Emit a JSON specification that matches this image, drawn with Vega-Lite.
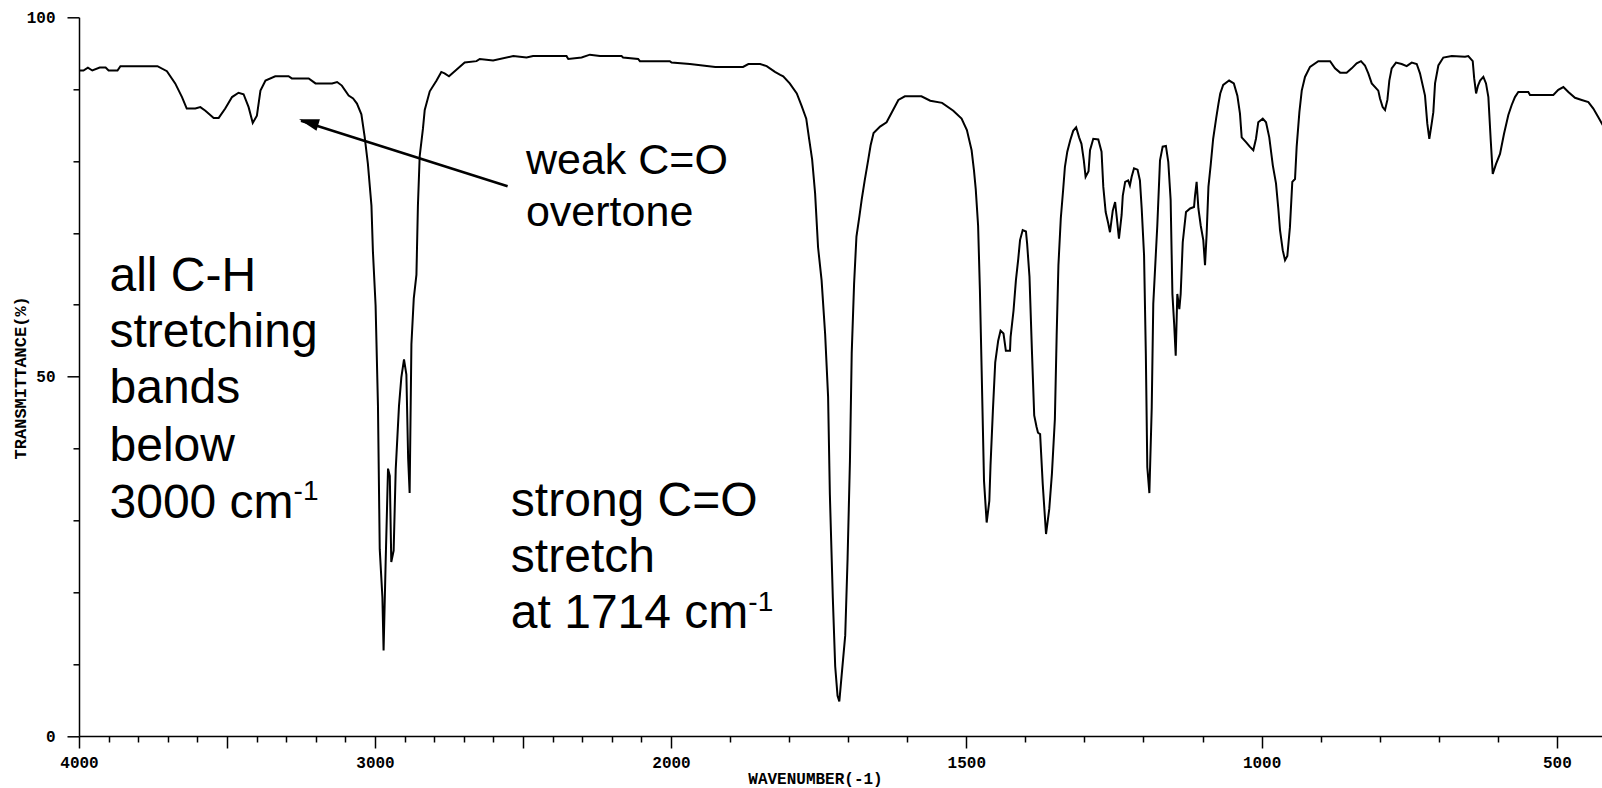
{
  "$schema": "https://vega.github.io/schema/vega-lite/v6.json",
  "autosize": "none",
  "width": 1523,
  "height": 718.7,
  "padding": {"left": 79, "top": 17.3, "right": 0, "bottom": 52},
  "background": "white",
  "config": {"view": {"stroke": null}, "axis": {"grid": false}},
  "datasets": {
    "spectrum": [
      {"w": 4000, "t": 92.6}, {"w": 3985, "t": 92.6}, {"w": 3970, "t": 93.0}, {"w": 3955, "t": 92.6}, {"w": 3930, "t": 93.0}, {"w": 3910, "t": 93.0}, {"w": 3900, "t": 92.6}, {"w": 3870, "t": 92.6}, {"w": 3860, "t": 93.2}, {"w": 3735, "t": 93.2},
      {"w": 3703, "t": 92.5}, {"w": 3675, "t": 90.8}, {"w": 3652, "t": 88.9}, {"w": 3636, "t": 87.3}, {"w": 3607, "t": 87.3}, {"w": 3590, "t": 87.5}, {"w": 3573, "t": 87.0}, {"w": 3545, "t": 86.0}, {"w": 3528, "t": 86.0}, {"w": 3506, "t": 87.3},
      {"w": 3483, "t": 88.9}, {"w": 3461, "t": 89.5}, {"w": 3444, "t": 89.3}, {"w": 3427, "t": 87.5}, {"w": 3413, "t": 85.3}, {"w": 3399, "t": 86.3}, {"w": 3387, "t": 89.8}, {"w": 3370, "t": 91.2}, {"w": 3337, "t": 91.8}, {"w": 3292, "t": 91.8},
      {"w": 3281, "t": 91.5}, {"w": 3224, "t": 91.5}, {"w": 3201, "t": 90.8}, {"w": 3145, "t": 90.8}, {"w": 3128, "t": 91.0}, {"w": 3112, "t": 90.5}, {"w": 3089, "t": 89.1}, {"w": 3074, "t": 88.7}, {"w": 3061, "t": 88.0}, {"w": 3046, "t": 86.5},
      {"w": 3035, "t": 83.4}, {"w": 3024, "t": 79.6}, {"w": 3012, "t": 73.8}, {"w": 3007, "t": 67.4}, {"w": 2998, "t": 59.9}, {"w": 2990, "t": 46.0}, {"w": 2984, "t": 26.0}, {"w": 2975, "t": 19.3}, {"w": 2971, "t": 11.9}, {"w": 2964, "t": 24.2},
      {"w": 2956, "t": 37.2}, {"w": 2950, "t": 36.2}, {"w": 2945, "t": 24.2}, {"w": 2937, "t": 25.8}, {"w": 2930, "t": 37.1}, {"w": 2919, "t": 45.9}, {"w": 2911, "t": 49.9}, {"w": 2902, "t": 52.4}, {"w": 2894, "t": 50.3}, {"w": 2888, "t": 38.6},
      {"w": 2883, "t": 33.8}, {"w": 2877, "t": 54.5}, {"w": 2869, "t": 60.9}, {"w": 2860, "t": 64.2}, {"w": 2855, "t": 73.8}, {"w": 2849, "t": 80.7}, {"w": 2838, "t": 84.5}, {"w": 2832, "t": 87.1}, {"w": 2815, "t": 89.7}, {"w": 2792, "t": 91.2},
      {"w": 2776, "t": 92.4}, {"w": 2765, "t": 92.2}, {"w": 2750, "t": 91.8}, {"w": 2725, "t": 92.7}, {"w": 2697, "t": 93.7}, {"w": 2657, "t": 93.9}, {"w": 2646, "t": 94.2}, {"w": 2601, "t": 94.0}, {"w": 2533, "t": 94.6}, {"w": 2488, "t": 94.4},
      {"w": 2466, "t": 94.6}, {"w": 2353, "t": 94.6}, {"w": 2347, "t": 94.2}, {"w": 2302, "t": 94.4}, {"w": 2274, "t": 94.8}, {"w": 2240, "t": 94.6}, {"w": 2167, "t": 94.6}, {"w": 2162, "t": 94.4}, {"w": 2111, "t": 94.2}, {"w": 2105, "t": 93.9},
      {"w": 2004, "t": 93.9}, {"w": 1999, "t": 93.7}, {"w": 1968, "t": 93.5}, {"w": 1925, "t": 93.1}, {"w": 1878, "t": 93.1}, {"w": 1869, "t": 93.5}, {"w": 1849, "t": 93.5}, {"w": 1838, "t": 93.2}, {"w": 1824, "t": 92.4}, {"w": 1815, "t": 92.0},
      {"w": 1810, "t": 91.8}, {"w": 1799, "t": 90.8}, {"w": 1787, "t": 89.4}, {"w": 1779, "t": 87.7}, {"w": 1771, "t": 85.9}, {"w": 1766, "t": 83.0}, {"w": 1761, "t": 80.2}, {"w": 1756, "t": 75.5}, {"w": 1751, "t": 68.0}, {"w": 1745, "t": 63.4},
      {"w": 1739, "t": 55.9}, {"w": 1734, "t": 47.2}, {"w": 1731, "t": 33.6}, {"w": 1726, "t": 19.2}, {"w": 1722, "t": 9.7}, {"w": 1718, "t": 5.6}, {"w": 1715, "t": 4.8}, {"w": 1711, "t": 8.5}, {"w": 1705, "t": 14.0}, {"w": 1701, "t": 24.7},
      {"w": 1697, "t": 38.3}, {"w": 1694, "t": 53.3}, {"w": 1690, "t": 62.9}, {"w": 1686, "t": 69.5}, {"w": 1681, "t": 72.3}, {"w": 1677, "t": 74.7}, {"w": 1672, "t": 77.3}, {"w": 1666, "t": 80.2}, {"w": 1662, "t": 82.2}, {"w": 1657, "t": 83.9},
      {"w": 1646, "t": 84.8}, {"w": 1635, "t": 85.4}, {"w": 1626, "t": 86.8}, {"w": 1615, "t": 88.5}, {"w": 1604, "t": 89.0}, {"w": 1576, "t": 89.0}, {"w": 1561, "t": 88.4}, {"w": 1541, "t": 88.1}, {"w": 1522, "t": 87.0}, {"w": 1508, "t": 85.9},
      {"w": 1499, "t": 84.3}, {"w": 1491, "t": 81.5}, {"w": 1487, "t": 78.7}, {"w": 1484, "t": 76.1}, {"w": 1480, "t": 71.0}, {"w": 1477, "t": 62.2}, {"w": 1474, "t": 50.9}, {"w": 1470, "t": 35.5}, {"w": 1465.5, "t": 29.7}, {"w": 1461, "t": 32.7},
      {"w": 1459, "t": 37.6}, {"w": 1455, "t": 45.2}, {"w": 1451, "t": 52.0}, {"w": 1446, "t": 55.0}, {"w": 1442, "t": 56.4}, {"w": 1437, "t": 56.0}, {"w": 1433, "t": 53.6}, {"w": 1426, "t": 53.6}, {"w": 1425, "t": 55.5}, {"w": 1420, "t": 59.2},
      {"w": 1416, "t": 63.4}, {"w": 1412, "t": 66.4}, {"w": 1409, "t": 69.0}, {"w": 1404.5, "t": 70.4}, {"w": 1399, "t": 70.2}, {"w": 1397, "t": 68.5}, {"w": 1393, "t": 63.9}, {"w": 1389, "t": 53.9}, {"w": 1385, "t": 44.6}, {"w": 1381, "t": 43.0},
      {"w": 1378.6, "t": 42.2}, {"w": 1375, "t": 42.0}, {"w": 1370.6, "t": 35.1}, {"w": 1365, "t": 28.1}, {"w": 1359.5, "t": 31.6}, {"w": 1355, "t": 36.5}, {"w": 1350, "t": 44.1}, {"w": 1347, "t": 55.7}, {"w": 1344, "t": 65.5}, {"w": 1340, "t": 72.0},
      {"w": 1336, "t": 76.0}, {"w": 1333, "t": 79.2}, {"w": 1329, "t": 81.3}, {"w": 1324, "t": 82.9}, {"w": 1319, "t": 84.2}, {"w": 1314, "t": 84.7}, {"w": 1309, "t": 83.3}, {"w": 1305, "t": 82.4}, {"w": 1301, "t": 80.1}, {"w": 1298, "t": 77.8},
      {"w": 1293, "t": 78.6}, {"w": 1290.5, "t": 81.5}, {"w": 1285, "t": 83.1}, {"w": 1276.5, "t": 83.0}, {"w": 1271, "t": 81.3}, {"w": 1268, "t": 76.4}, {"w": 1264, "t": 72.9}, {"w": 1259.6, "t": 71.3}, {"w": 1256.7, "t": 70.1}, {"w": 1252, "t": 73.1},
      {"w": 1248, "t": 74.3}, {"w": 1245.4, "t": 72.3}, {"w": 1241.5, "t": 69.2}, {"w": 1237, "t": 72.5}, {"w": 1235, "t": 75.2}, {"w": 1231, "t": 77.1}, {"w": 1226, "t": 77.3}, {"w": 1223, "t": 76.6}, {"w": 1220, "t": 77.8}, {"w": 1216, "t": 79.0},
      {"w": 1210, "t": 78.8}, {"w": 1206, "t": 77.3}, {"w": 1203, "t": 73.4}, {"w": 1199, "t": 66.9}, {"w": 1196, "t": 53.2}, {"w": 1193.5, "t": 37.4}, {"w": 1190, "t": 33.8}, {"w": 1186, "t": 45.7}, {"w": 1183.4, "t": 60.1}, {"w": 1176.6, "t": 71.0},
      {"w": 1172, "t": 80.1}, {"w": 1167.5, "t": 82.0}, {"w": 1162, "t": 82.1}, {"w": 1158, "t": 79.9}, {"w": 1154, "t": 74.6}, {"w": 1151, "t": 61.5}, {"w": 1148, "t": 57.3}, {"w": 1145.4, "t": 52.9}, {"w": 1142.7, "t": 61.5}, {"w": 1139.3, "t": 59.4},
      {"w": 1137, "t": 61.5}, {"w": 1133.5, "t": 68.7}, {"w": 1128, "t": 72.9}, {"w": 1121, "t": 73.4}, {"w": 1114.4, "t": 73.6}, {"w": 1112.7, "t": 75.2}, {"w": 1110, "t": 77.1}, {"w": 1107, "t": 73.4}, {"w": 1103, "t": 71.0}, {"w": 1098.7, "t": 69.0},
      {"w": 1095.8, "t": 65.5}, {"w": 1093, "t": 69.9}, {"w": 1090, "t": 76.4}, {"w": 1086, "t": 79.6}, {"w": 1082, "t": 83.1}, {"w": 1077, "t": 85.9}, {"w": 1073, "t": 88.0}, {"w": 1070, "t": 89.4}, {"w": 1065, "t": 90.6}, {"w": 1055, "t": 91.2},
      {"w": 1047, "t": 90.8}, {"w": 1041, "t": 89.1}, {"w": 1036.6, "t": 86.6}, {"w": 1033.7, "t": 83.3}, {"w": 1026, "t": 82.6}, {"w": 1020, "t": 82.0}, {"w": 1014, "t": 81.5}, {"w": 1009.5, "t": 83.1}, {"w": 1005.6, "t": 85.4}, {"w": 998, "t": 85.9},
      {"w": 992.5, "t": 85.4}, {"w": 987, "t": 83.3}, {"w": 981, "t": 79.4}, {"w": 975.6, "t": 76.9}, {"w": 971.7, "t": 73.4}, {"w": 968.8, "t": 70.4}, {"w": 964.2, "t": 67.6}, {"w": 960.3, "t": 66.2}, {"w": 956.4, "t": 66.8}, {"w": 952, "t": 70.8},
      {"w": 948, "t": 77.1}, {"w": 943.4, "t": 77.5}, {"w": 940.6, "t": 82.0}, {"w": 936, "t": 86.8}, {"w": 932, "t": 89.8}, {"w": 926.5, "t": 91.7}, {"w": 918, "t": 93.1}, {"w": 904, "t": 93.9}, {"w": 884, "t": 93.9}, {"w": 875.7, "t": 92.9},
      {"w": 867, "t": 92.3}, {"w": 856, "t": 92.3}, {"w": 847.4, "t": 92.9}, {"w": 839, "t": 93.6}, {"w": 831.7, "t": 93.9}, {"w": 825, "t": 93.3}, {"w": 819.3, "t": 92.2}, {"w": 813.5, "t": 90.8}, {"w": 802.4, "t": 89.8}, {"w": 799.5, "t": 88.7},
      {"w": 795, "t": 87.5}, {"w": 791, "t": 87.1}, {"w": 787, "t": 88.5}, {"w": 783.7, "t": 91.2}, {"w": 779.7, "t": 92.9}, {"w": 772.4, "t": 93.7}, {"w": 762.8, "t": 93.5}, {"w": 754.3, "t": 93.2}, {"w": 745.8, "t": 93.7}, {"w": 737.3, "t": 93.5},
      {"w": 731.8, "t": 92.2}, {"w": 723.3, "t": 89.1}, {"w": 719.4, "t": 85.2}, {"w": 716, "t": 83.1}, {"w": 712, "t": 85.2}, {"w": 709.2, "t": 86.8}, {"w": 706.3, "t": 90.8}, {"w": 700.7, "t": 93.3}, {"w": 692.3, "t": 94.4}, {"w": 678, "t": 94.6},
      {"w": 655.5, "t": 94.5}, {"w": 650, "t": 94.6}, {"w": 642.5, "t": 93.9}, {"w": 640, "t": 91.5}, {"w": 636.8, "t": 89.4}, {"w": 633.5, "t": 90.5}, {"w": 630, "t": 91.2}, {"w": 624.5, "t": 91.7}, {"w": 620, "t": 90.8}, {"w": 616, "t": 88.9},
      {"w": 612, "t": 82.9}, {"w": 608.6, "t": 78.2}, {"w": 603, "t": 79.6}, {"w": 596.3, "t": 81.0}, {"w": 589.5, "t": 83.8}, {"w": 582.2, "t": 86.4}, {"w": 576.5, "t": 87.8}, {"w": 571, "t": 88.9}, {"w": 565.3, "t": 89.6}, {"w": 548.4, "t": 89.6},
      {"w": 545.5, "t": 89.2}, {"w": 506, "t": 89.2}, {"w": 497.6, "t": 89.9}, {"w": 489, "t": 90.3}, {"w": 480.6, "t": 89.6}, {"w": 469.3, "t": 88.8}, {"w": 458, "t": 88.5}, {"w": 446.7, "t": 88.2}, {"w": 438.3, "t": 87.3}, {"w": 429.8, "t": 86.1},
      {"w": 423.6, "t": 85.2}, {"w": 415, "t": 84.0}
    ],
    "weakText": [
      {"w": 2490, "t": 78.2, "label": "weak C=O"},
      {"w": 2490, "t": 71.0, "label": "overtone"}
    ],
    "bigText": [
      {"w": 3897, "t": 61.9, "label": "all C-H"},
      {"w": 3897, "t": 54.1, "label": "stretching"},
      {"w": 3897, "t": 46.3, "label": "bands"},
      {"w": 3897, "t": 38.2, "label": "below"},
      {"w": 3897, "t": 30.3, "label": "3000 cm"},
      {"w": 2541, "t": 30.6, "label": "strong C=O"},
      {"w": 2541, "t": 22.8, "label": "stretch"},
      {"w": 2541, "t": 15.0, "label": "at 1714 cm"}
    ],
    "supText": [
      {"w": 3275, "t": 32.8, "label": "-1"},
      {"w": 1869, "t": 17.4, "label": "-1"}
    ],
    "arrow": [
      {"w": 2552, "t": 76.5, "w2": 3250, "t2": 85.6}
    ],
    "arrowHead": [
      {"w": 3256.6, "t": 85.8}
    ]
  },
  "encoding": {
    "x": {
      "field": "w",
      "type": "quantitative",
      "scale": {"domain": [4000, 2000, 423.6], "range": [0, 592, 1523], "nice": false, "zero": false},
      "axis": {
        "title": "WAVENUMBER(-1)",
        "values": [4000, 3900, 3800, 3700, 3600, 3500, 3400, 3300, 3200, 3100, 3000, 2900, 2800, 2700, 2600, 2500, 2400, 2300, 2200, 2100, 2000, 1900, 1800, 1700, 1600, 1500, 1400, 1300, 1200, 1100, 1000, 900, 800, 700, 600, 500],
        "format": "d",
        "labelExpr": "indexof([4000, 3000, 2000, 1500, 1000, 500], datum.value) >= 0 ? datum.label : ''",
        "labelOverlap": false,
        "labelFlush": false,
        "labelFont": "Liberation Mono",
        "labelFontSize": 16,
        "labelFontWeight": "bold",
        "labelColor": "black",
        "labelPadding": 6,
        "tickSize": {"condition": {"test": "datum.value % 500 === 0", "value": 12}, "value": 6},
        "tickColor": "black",
        "tickWidth": 1.5,
        "domainColor": "black",
        "domainWidth": 1.5,
        "titleFont": "Liberation Mono",
        "titleFontSize": 16,
        "titleFontWeight": "bold",
        "titleColor": "black",
        "titleX": 736,
        "titleY": 42,
        "titleBaseline": "middle",
        "titleAnchor": "middle"
      }
    },
    "y": {
      "field": "t",
      "type": "quantitative",
      "scale": {"domain": [0, 100], "nice": false},
      "axis": {
        "title": "TRANSMITTANCE(%)",
        "values": [0, 10, 20, 30, 40, 50, 60, 70, 80, 90, 100],
        "labelExpr": "datum.value % 50 === 0 ? datum.label : ''",
        "labelOverlap": false,
        "labelFlush": false,
        "labelFont": "Liberation Mono",
        "labelFontSize": 16,
        "labelFontWeight": "bold",
        "labelColor": "black",
        "labelPadding": 12,
        "tickSize": {"condition": {"test": "datum.value % 50 === 0", "value": 12}, "value": 6},
        "tickColor": "black",
        "tickWidth": 1.5,
        "domainColor": "black",
        "domainWidth": 1.5,
        "titleFont": "Liberation Mono",
        "titleFontSize": 17,
        "titleFontWeight": "bold",
        "titleColor": "black",
        "titleX": -59,
        "titleY": 360,
        "titleAngle": -90,
        "titleBaseline": "middle",
        "titleAlign": "center"
      }
    }
  },
  "layer": [
    {
      "mark": {"type": "rule", "color": "black", "strokeWidth": 1.5},
      "encoding": {"y": {"datum": 100}, "x": null}
    },
    {
      "data": {"name": "spectrum"},
      "mark": {"type": "line", "color": "black", "strokeWidth": 2, "clip": true}
    },
    {
      "data": {"name": "weakText"},
      "mark": {"type": "text", "align": "left", "baseline": "alphabetic", "font": "Liberation Sans", "fontSize": 43, "color": "black"},
      "encoding": {"text": {"field": "label"}}
    },
    {
      "data": {"name": "bigText"},
      "mark": {"type": "text", "align": "left", "baseline": "alphabetic", "font": "Liberation Sans", "fontSize": 48, "color": "black"},
      "encoding": {"text": {"field": "label"}}
    },
    {
      "data": {"name": "supText"},
      "mark": {"type": "text", "align": "left", "baseline": "alphabetic", "font": "Liberation Sans", "fontSize": 28, "color": "black"},
      "encoding": {"text": {"field": "label"}}
    },
    {
      "data": {"name": "arrow"},
      "mark": {"type": "rule", "color": "black", "strokeWidth": 2.5},
      "encoding": {"x2": {"field": "w2"}, "y2": {"field": "t2"}}
    },
    {
      "data": {"name": "arrowHead"},
      "mark": {"type": "point", "shape": "M0,0L0.6,2L-0.6,2Z", "filled": true, "color": "black", "size": 400, "angle": 286.7, "opacity": 1}
    }
  ]
}
